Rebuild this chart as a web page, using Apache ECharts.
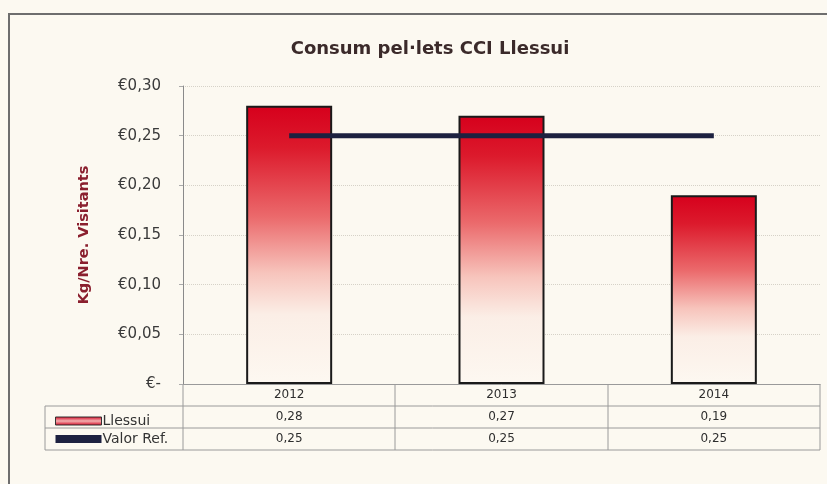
<!DOCTYPE html>
<html><head><meta charset="utf-8">
<script src="https://cdn.jsdelivr.net/npm/echarts@6/dist/echarts.min.js"></script>
<style>html,body{margin:0;padding:0;background:#fcf9f1;}#c{width:827px;height:484px;}</style>
</head><body><div id="c"></div>
<script>
const categories = ['2012', '2013', '2014'];
const llessui = [0.28, 0.27, 0.19];
const valorRef = [0.25, 0.25, 0.25];
const seriesNames = ['Llessui', 'Valor Ref.'];
const yTicks = [0, 0.05, 0.10, 0.15, 0.20, 0.25, 0.30];

const G = {left: 183, right: 7, top: 86, bottom: 100};
const W = 827, H = 484;
const FONT = 'DejaVu Sans';
const fmt = v => v.toFixed(2).replace('.', ',');

const chart = echarts.init(document.getElementById('c'), null, {renderer: 'canvas'});
const gx0 = G.left, gx1 = W - G.right, gy1 = H - G.bottom;
const rowH = 22;
const bandW = (gx1 - gx0) / categories.length;
const tableLines = [];
const lineStyle = {stroke: '#9a9a9a', lineWidth: 1};
for (let r = 1; r <= 3; r++) {
  const y = gy1 + r * rowH;
  tableLines.push({type: 'line', shape: {x1: 45, y1: y, x2: gx1, y2: y}, style: lineStyle, silent: true});
}
for (let i = 0; i <= categories.length; i++) {
  const x = Math.round(gx0 + i * bandW);
  tableLines.push({type: 'line', shape: {x1: x, y1: gy1, x2: x, y2: gy1 + 3 * rowH}, style: lineStyle, silent: true});
}
tableLines.push({type: 'line', shape: {x1: 45, y1: gy1 + rowH, x2: 45, y2: gy1 + 3 * rowH}, style: lineStyle, silent: true});
tableLines.push({type: 'rect', shape: {x: 9, y: 14, width: W + 20, height: H + 20}, style: {fill: null, stroke: '#6e6e6e', lineWidth: 2}, silent: true});

const barGrad = new echarts.graphic.LinearGradient(0, 0, 0, 1, [
  {offset: 0, color: '#d6001c'},
  {offset: 0.15, color: '#dc1a2c'},
  {offset: 0.4, color: '#eb6a6c'},
  {offset: 0.6, color: '#f7c4bc'},
  {offset: 0.75, color: '#fbeee6'},
  {offset: 1, color: '#fdf8f1'}
]);
const legGrad = new echarts.graphic.LinearGradient(0, 0, 0, 1, [
  {offset: 0, color: '#d6001f'},
  {offset: 0.5, color: '#f2b0b0'},
  {offset: 1, color: '#d6001f'}
]);

chart.setOption({
  backgroundColor: '#fcf9f1',
  animation: false,
  title: {
    text: 'Consum pel·lets CCI Llessui',
    left: 425, top: 35, textAlign: 'center',
    textStyle: {fontFamily: FONT, fontSize: 18, fontWeight: 'bold', color: '#3b2a2a'}
  },
  legend: {
    orient: 'vertical', left: 50, top: gy1 + rowH + 3, itemGap: 4,
    itemWidth: 46, itemHeight: 8,
    textStyle: {fontFamily: FONT, fontSize: 14, color: '#333', padding: [0, 0, 0, -4]},
    data: [
      {name: seriesNames[0], icon: 'rect', itemStyle: {color: legGrad, borderColor: '#333', borderWidth: 1}},
      {name: seriesNames[1], icon: 'rect', itemStyle: {color: '#1d2140'}}
    ]
  },
  grid: {left: G.left, right: G.right, top: G.top, bottom: G.bottom},
  xAxis: {
    type: 'category', data: categories,
    axisLine: {lineStyle: {color: '#9a9a9a'}},
    axisTick: {show: false},
    axisLabel: {
      margin: 0, interval: 0,
      formatter: (v, i) => `{a|${v}}\n{a|${fmt(llessui[i])}}\n{a|${fmt(valorRef[i])}}`,
      rich: {a: {fontFamily: FONT, fontSize: 12, color: '#2e2e2e', lineHeight: rowH, height: rowH}}
    }
  },
  yAxis: {
    type: 'value', min: 0, max: 0.30, interval: 0.05,
    name: 'Kg/Nre. Visitants', nameLocation: 'middle', nameGap: 91, nameRotate: 90,
    nameTextStyle: {fontFamily: FONT, fontSize: 14.5, fontWeight: 'bold', color: '#8a1f2e'},
    axisLine: {show: true, lineStyle: {color: '#8a8a8a'}},
    axisTick: {show: true, length: 4, lineStyle: {color: '#aaa'}},
    axisLabel: {
      margin: 22, fontFamily: FONT, fontSize: 15, color: '#3a3a3a',
      formatter: v => v === 0 ? '€-' : '€' + fmt(v)
    },
    splitLine: {lineStyle: {color: '#d6d2c8', type: 'dotted'}}
  },
  series: [
    {
      name: seriesNames[0], type: 'bar', data: llessui, barWidth: 86,
      itemStyle: {color: barGrad, borderColor: '#1a1a1a', borderWidth: 2}
    },
    {
      name: seriesNames[1], type: 'line', data: valorRef, symbol: 'none',
      lineStyle: {color: '#1d2140', width: 5}, itemStyle: {color: '#1d2140'}
    }
  ],
  graphic: tableLines
});
</script></body></html>
